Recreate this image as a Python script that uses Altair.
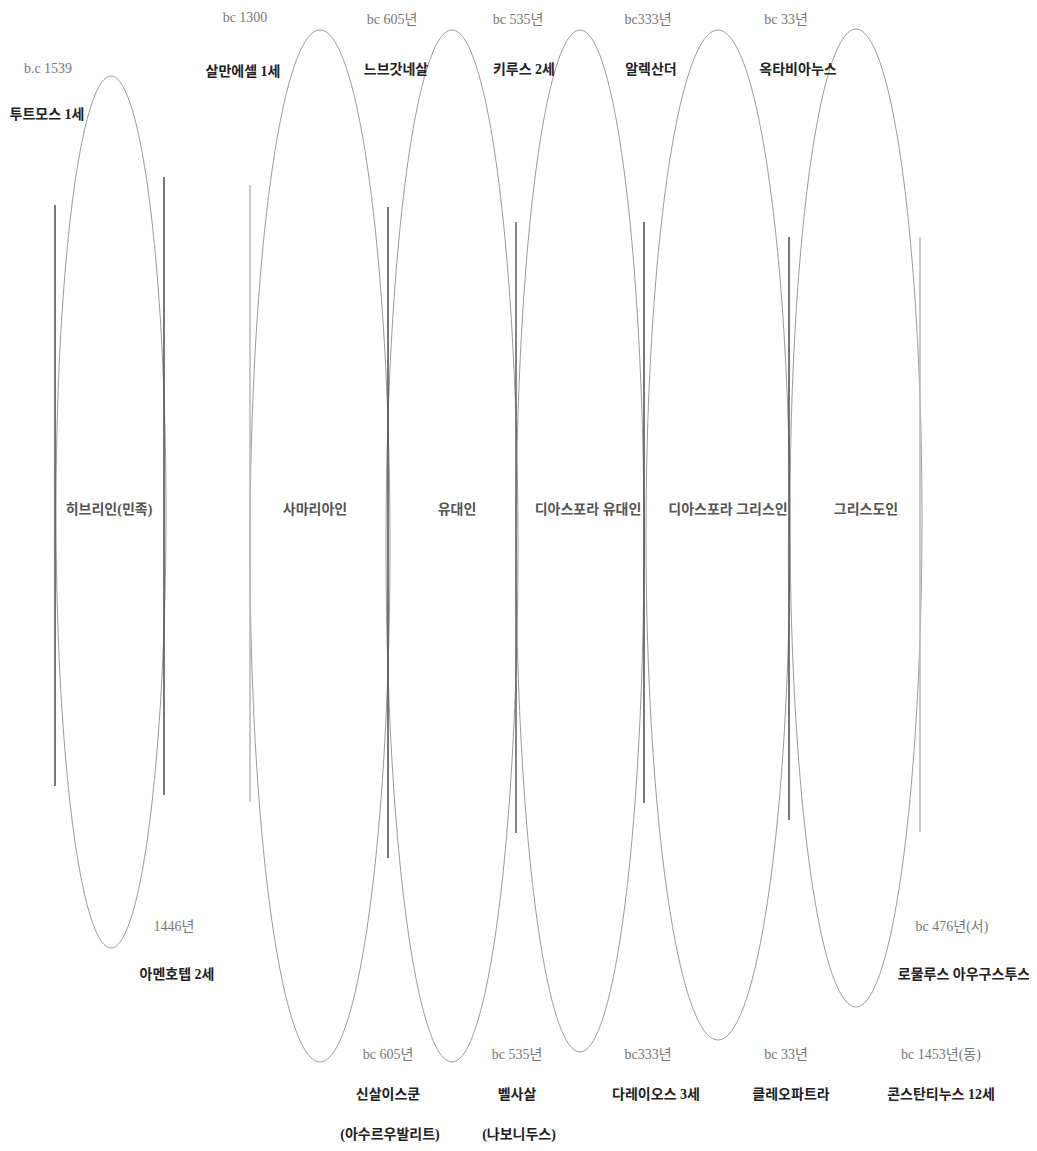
import altair as alt
import numpy as np
import pandas as pd

# Ellipses (image pixel coordinates): name, centre x, centre y, radius x, radius y
ell_names = ["히브리인", "사마리아인", "유대인", "디아스포라 유대인", "디아스포라 그리스인", "그리스도인"]
ell_cx = [111, 320, 452, 580, 718, 856]
ell_cy = [512, 546, 546, 541, 535, 518]
ell_rx = [55, 70, 66, 64, 72, 66]
ell_ry = [436, 516, 516, 511, 505, 489]

# Vertical boundary lines
line_x = [55, 164, 250, 388, 516, 644, 789, 920]
line_top = [205, 177, 185, 207, 222, 222, 237, 237]
line_bot = [786, 795, 802, 858, 833, 803, 820, 832]
line_col = ["#555555", "#555555", "#bbbbbb", "#555555", "#666666", "#555555", "#555555", "#bbbbbb"]

# Date labels
date_text = ["b.c 1539", "bc 1300", "bc 605년", "bc 535년", "bc333년", "bc 33년",
             "1446년", "bc 605년", "bc 535년", "bc333년", "bc 33년", "bc 476년(서)", "bc 1453년(동)"]
date_x = [48, 245, 392, 518, 648, 786, 174, 388, 517, 648, 786, 952, 941]
date_y = [69, 18, 20, 20, 20, 20, 927, 1055, 1055, 1055, 1055, 927, 1055]

# Ruler name labels
name_text = ["투트모스 1세", "살만에셀 1세", "느브갓네살", "키루스 2세", "알렉산더", "옥타비아누스",
             "아멘호텝 2세", "신살이스쿤", "(아수르우발리트)", "벨사살", "(나보니두스)",
             "다레이오스 3세", "클레오파트라", "로물루스 아우구스투스", "콘스탄티누스 12세"]
name_x = [47, 243, 396, 524, 651, 798, 177, 388, 390, 517, 519, 656, 791, 964, 941]
name_y = [115, 72, 70, 70, 70, 70, 975, 1095, 1135, 1095, 1135, 1095, 1095, 975, 1095]

# Group labels inside ellipses
grp_text = ["히브리인(민족)", "사마리아인", "유대인", "디아스포라 유대인", "디아스포라 그리스인", "그리스도인"]
grp_x = [109, 315, 457, 588, 728, 866]
grp_y = [510, 510, 510, 510, 510, 510]

# ---- build tables ----
t = np.linspace(0, 2 * np.pi, 241)
rows = []
for i, n in enumerate(ell_names):
    for k, a in enumerate(t):
        rows.append({"e": n, "k": k,
                     "x": ell_cx[i] + ell_rx[i] * np.sin(a),
                     "y": ell_cy[i] - ell_ry[i] * np.cos(a)})
ell_df = pd.DataFrame(rows)
line_df = pd.DataFrame({"x": line_x, "y": line_top, "y2": line_bot, "c": line_col})
date_df = pd.DataFrame({"t": date_text, "x": date_x, "y": date_y})
name_df = pd.DataFrame({"t": name_text, "x": name_x, "y": name_y})
grp_df = pd.DataFrame({"t": grp_text, "x": grp_x, "y": grp_y})

W, H = 1021, 1135
xs = alt.Scale(domain=[8, 8 + W], range=[0, W])
ys = alt.Scale(domain=[8, 8 + H], range=[0, H])
X = lambda f: alt.X(f, type="quantitative", scale=xs, axis=None)
Y = lambda f: alt.Y(f, type="quantitative", scale=ys, axis=None)

ellipses = alt.Chart(ell_df).mark_line(color="#9a9a9a", strokeWidth=1).encode(
    x=X("x"), y=Y("y"), detail="e:N", order="k:Q")

rules = alt.Chart(line_df).mark_rule(strokeWidth=1.6).encode(
    x=X("x"), y=Y("y"), y2="y2:Q", color=alt.Color("c:N", scale=None))

FONT = "Liberation Serif, Noto Sans CJK KR"
dates = alt.Chart(date_df).mark_text(font=FONT, fontSize=14, color="#777777",
                                     align="center", baseline="middle").encode(
    x=X("x"), y=Y("y"), text="t:N")
names = alt.Chart(name_df).mark_text(font=FONT, fontSize=14, color="#222222", fontWeight="bold",
                                     align="center", baseline="middle").encode(
    x=X("x"), y=Y("y"), text="t:N")
groups = alt.Chart(grp_df).mark_text(font=FONT, fontSize=14, color="#555555", fontWeight="bold",
                                     align="center", baseline="middle").encode(
    x=X("x"), y=Y("y"), text="t:N")

chart = alt.layer(ellipses, rules, dates, names, groups).properties(
    width=W, height=H, autosize=alt.AutoSizeParams(type="none"), padding=0,
    background="white"
).configure_view(stroke=None)

chart.save("out.html", embed_options={"renderer": "svg", "actions": False})
